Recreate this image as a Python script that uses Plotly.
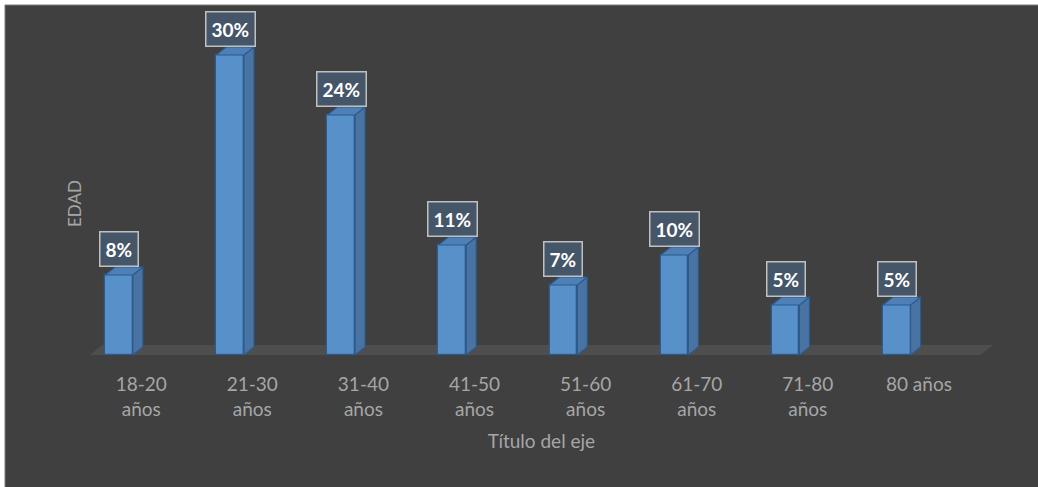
import plotly.graph_objects as go

# Age distribution of respondents
categories = ["18-20<br>años", "21-30<br>años", "31-40<br>años", "41-50<br>años",
              "51-60<br>años", "61-70<br>años", "71-80<br>años", "80 años"]
percentages = [8, 30, 24, 11, 7, 10, 5, 5]

x_title = "Título del eje"
y_title = "EDAD"

# Figure geometry (pixels)
W, H = 1038, 487
M_L, M_R, M_T, M_B = 90, 45, 0, 132
PLOT_W = W - M_L - M_R
PLOT_H = H - M_T - M_B
X_RANGE = [-0.261, 7.867]
Y_RANGE = [0, 35.5]
px_x = PLOT_W / (X_RANGE[1] - X_RANGE[0])
px_y = PLOT_H / (Y_RANGE[1] - Y_RANGE[0])

# 3-D look: depth offset of the bar side/top faces
BAR_W = 0.25
DX = 10 / px_x
DY = 8 / px_y

BG = "#404040"
FLOOR = "#4e4e4e"
FRONT = "#5890c9"
SIDE = "#4873a2"
TOP = "#4e80b7"
EDGE = "#2b5b8c"
TEXT = "#a6a6a6"
FONT = "Lato, Open Sans, sans-serif"

xs = list(range(len(categories)))

fig = go.Figure()

# Front faces
fig.add_trace(go.Bar(
    x=xs, y=percentages, width=BAR_W,
    marker=dict(color=FRONT, line=dict(color=EDGE, width=1.3)),
    hoverinfo="skip", showlegend=False,
))

# Side faces
sx, sy = [], []
for x, v in zip(xs, percentages):
    r = x + BAR_W / 2
    sx += [r, r + DX, r + DX, r, r, None]
    sy += [0, DY, v + DY, v, 0, None]
fig.add_trace(go.Scatter(
    x=sx, y=sy, mode="lines", fill="toself", fillcolor=SIDE,
    line=dict(color=EDGE, width=1.1), hoverinfo="skip", showlegend=False,
))

# Top faces
tx, ty = [], []
for x, v in zip(xs, percentages):
    l, r = x - BAR_W / 2, x + BAR_W / 2
    tx += [l, r, r + DX, l + DX, l, None]
    ty += [v, v, v + DY, v + DY, v, None]
fig.add_trace(go.Scatter(
    x=tx, y=ty, mode="lines", fill="toself", fillcolor=TOP,
    line=dict(color=EDGE, width=1.1), hoverinfo="skip", showlegend=False,
))

# Value labels in boxes above each bar
annotations = []
for x, v in zip(xs, percentages):
    annotations.append(dict(
        x=x, y=v + DY, xref="x", yref="y", yanchor="bottom",
        text=f"<b>{v}%</b>", showarrow=False,
        font=dict(family=FONT, size=19, color="white"),
        bgcolor="#465669", bordercolor="#c0c0c0", borderwidth=1.5, borderpad=5,
    ))

# Vertical axis title
annotations.append(dict(
    x=(74 - M_L) / PLOT_W, y=1 - (204 - M_T) / PLOT_H, xref="paper", yref="paper",
    xanchor="center", yanchor="middle",
    text=y_title, textangle=-90, showarrow=False,
    font=dict(family=FONT, size=17, color=TEXT),
))

# Dark panel and floor
floor_depth_x = 12 / px_x
floor_depth_y = 10 / px_y
floor_front_right = 7.75
shapes = [
    dict(type="rect", xref="paper", yref="paper", layer="below",
         x0=(5 - M_L) / PLOT_W, x1=(W + 2 - M_L) / PLOT_W,
         y0=-(H + 2 - PLOT_H - M_T) / PLOT_H, y1=1 - (5 - M_T) / PLOT_H,
         fillcolor=BG, line=dict(color="#7a7a7a", width=1)),
    dict(type="path", xref="x", yref="y", layer="below",
         path=(f"M {X_RANGE[0]} 0 L {floor_front_right} 0 "
               f"L {X_RANGE[1]} {floor_depth_y} "
               f"L {X_RANGE[0] + floor_depth_x} {floor_depth_y} Z"),
         fillcolor=FLOOR, line=dict(width=0)),
]

fig.update_layout(
    width=W, height=H,
    margin=dict(l=M_L, r=M_R, t=M_T, b=M_B),
    paper_bgcolor="white", plot_bgcolor="rgba(0,0,0,0)",
    bargap=0, showlegend=False,
    xaxis=dict(
        range=X_RANGE, tickvals=[x + 0.2 for x in xs], ticktext=categories,
        ticks="outside", ticklen=12, tickcolor="rgba(0,0,0,0)",
        tickfont=dict(family=FONT, size=19, color=TEXT),
        showgrid=False, zeroline=False, showline=False, fixedrange=True,
        title=dict(text=x_title, font=dict(family=FONT, size=19, color=TEXT), standoff=16),
    ),
    yaxis=dict(range=Y_RANGE, visible=False, fixedrange=True),
    shapes=shapes, annotations=annotations,
)

fig.write_html("out.html")
